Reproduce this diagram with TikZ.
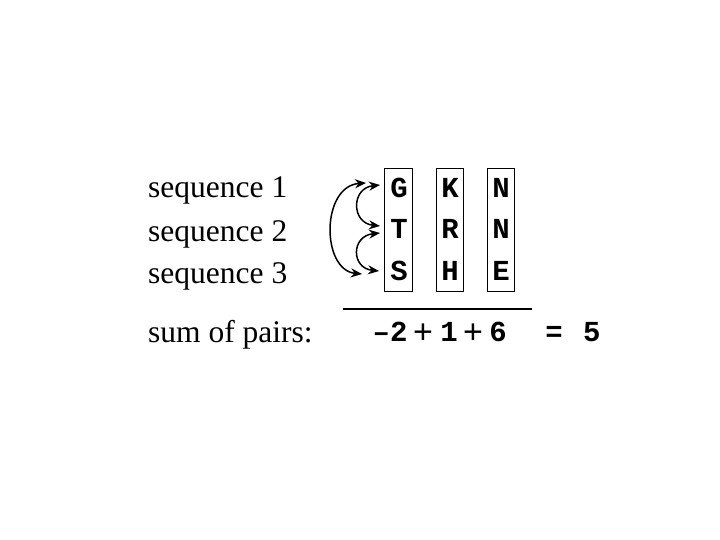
\documentclass[tikz,border=0pt]{standalone}
\usepackage{fontspec}
\setmainfont{Liberation Serif}
\newfontfamily\monob{Liberation Mono}
\newfontfamily\sansf{Liberation Sans}
\usetikzlibrary{arrows.meta}
\begin{document}
\begin{tikzpicture}[x=1pt,y=-1pt,
  lbl/.style={anchor=base west,inner sep=0pt,font=\fontsize{31.5}{34}\selectfont},
  res/.style={anchor=base,inner sep=0pt,font=\fontsize{29}{32}\selectfont\monob\bfseries},
  dig/.style={anchor=base,inner sep=0pt,font=\fontsize{29}{32}\selectfont\monob\bfseries},
  plus/.style={anchor=base,inner sep=0pt,font=\fontsize{34}{38}\selectfont\sansf},
  colbox/.style={draw=black,line width=0.9pt},
  pairarrow/.style={{Stealth[length=11pt,width=9pt]}-{Stealth[length=11pt,width=9pt]},line width=1.5pt}]
\useasboundingbox (0,0) rectangle (720,540);
% labels
\node[lbl] (l1) at (148,198) {sequence 1};
\node[lbl] (l2) at (148,241) {sequence 2};
\node[lbl] (l3) at (148,283) {sequence 3};
\node[lbl] (l4) at (148,342) {sum of pairs:};
% boxes
\draw[colbox] (384,168) rectangle (412,291);
\draw[colbox] (436,168) rectangle (463,291);
\draw[colbox] (487,168) rectangle (514,291);
% residues
\node[res] (g) at (399,197) {G};
\node[res] (t) at (399,238) {T};
\node[res] (s) at (399,280) {S};
\node[res] (k) at (450,197) {K};
\node[res] (r) at (450,238) {R};
\node[res] (h) at (450,280) {H};
\node[res] (n1) at (501,197) {N};
\node[res] (n2) at (501,238) {N};
\node[res] (e) at (501,280) {E};
% arrows
\coordinate (ga) at (380,185);
\coordinate (go) at (366,183);
\coordinate (ta) at (380,226);
\coordinate (tb) at (380,233);
\coordinate (sa) at (379,271);
\coordinate (so) at (362,274);
\draw[pairarrow] (go) .. controls (321,186) and (321,270) .. (so);
\draw[pairarrow] (ga) .. controls (351,188) and (351,223) .. (ta);
\draw[pairarrow] (tb) .. controls (351,236) and (351,268) .. (sa);
% line
\draw[line width=1.6pt] (343,309) -- (532,309);
% sum
\node[dig] (m2) at (390,341) {–2};
\node[plus] (p1) at (423,343) {+};
\node[dig] (one) at (449,341) {1};
\node[plus] (p2) at (473,343) {+};
\node[dig] (six) at (498,341) {6};
\node[res] (eq) at (573,341) {= \hspace{3pt}5};
\end{tikzpicture}
\end{document}
